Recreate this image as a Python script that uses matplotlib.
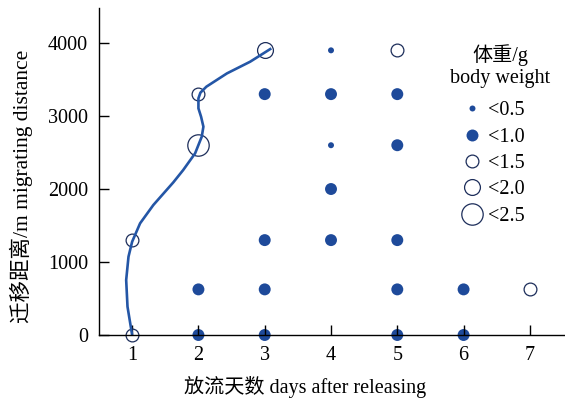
import numpy as np
import matplotlib
matplotlib.use("Agg")
from matplotlib import pyplot as plt
from matplotlib.lines import Line2D

plt.rcParams['font.family'] = ['Liberation Serif', 'Noto Sans CJK SC']
plt.rcParams['font.size'] = 14.5

# days after releasing, migrating distance (m), body weight class (g)
days = [1, 1, 2, 2, 2, 2, 3, 3, 3, 3, 3, 4, 4, 4, 4, 4, 5, 5, 5, 5, 5, 5, 6, 6, 7]
dist = [0, 1300, 0, 625, 2600, 3300, 0, 625, 1300, 3300, 3900, 1300, 2000, 2600, 3300, 3900,
        0, 625, 1300, 2600, 3300, 3900, 0, 625, 625]
weight = [1.5, 1.5, 1.0, 1.0, 2.5, 1.5, 1.0, 1.0, 1.0, 1.0, 2.0, 1.0, 1.0, 0.5, 1.0, 0.5,
          1.0, 1.0, 1.0, 1.0, 1.0, 1.5, 1.0, 1.0, 1.5]

# fitted curve
curve_x = [1.0, 0.93, 0.91, 0.945, 1.0, 1.12, 1.32, 1.62, 1.77, 1.95, 2.05, 2.075, 2.04,
           2.0, 2.0, 2.03, 2.12, 2.43, 2.78, 3.1]
curve_y = [0, 388, 753, 1073, 1278, 1530, 1781, 2090, 2260, 2489, 2717, 2854, 2990,
           3105, 3242, 3320, 3402, 3584, 3744, 3927]

classes = [0.5, 1.0, 1.5, 2.0, 2.5]
labels = ['<0.5', '<1.0', '<1.5', '<2.0', '<2.5']

blue = '#1e4a9a'
edge = '#1c2d5a'
line_c = '#2456a6'
diam = {0.5: 4.3, 1.0: 8.6, 1.5: 9.2, 2.0: 11.4, 2.5: 15.4}
filled = {0.5: True, 1.0: True, 1.5: False, 2.0: False, 2.5: False}

fig = plt.figure(figsize=(5.65, 4.05), dpi=100)
ax = fig.add_axes([99 / 565, 70 / 405, 466 / 565, 327 / 405])

ax.plot(curve_x, curve_y, color=line_c, lw=1.9, zorder=3, solid_joinstyle='round',
        solid_capstyle='butt', clip_on=False)

w = np.array(weight)
d = np.array(days)
y = np.array(dist)
for c in classes:
    m = w == c
    if filled[c]:
        ax.scatter(d[m], y[m], s=diam[c] ** 2, color=blue, edgecolors='none',
                   zorder=2, clip_on=False)
    else:
        ax.scatter(d[m], y[m], s=diam[c] ** 2, facecolors='white', edgecolors=edge,
                   linewidths=0.9, zorder=2, clip_on=False)

ax.set_xlim(0.5, 7.53)
ax.set_ylim(0, 4480)
ax.set_xticks(range(1, 8))
ax.set_yticks([0, 1000, 2000, 3000, 4000])
ax.tick_params(direction='in', length=7, width=1, pad=8)
ax.set_axisbelow(False)
for s in ['top', 'right']:
    ax.spines[s].set_visible(False)
for s in ['left', 'bottom']:
    ax.spines[s].set_linewidth(1)
    ax.spines[s].set_zorder(4)

ax.set_xlabel('放流天数 days after releasing')
ax.xaxis.set_label_coords(0.442, -0.125)
ax.set_ylabel('迁移距离/m migrating distance', fontsize=15.5)
ax.yaxis.set_label_coords(-0.142, 0.456)

handles = []
for c in classes:
    if filled[c]:
        h = Line2D([], [], ls='none', marker='o', markersize=diam[c],
                   markerfacecolor=blue, markeredgecolor='none')
    else:
        h = Line2D([], [], ls='none', marker='o', markersize=diam[c],
                   markerfacecolor='white', markeredgecolor=edge, markeredgewidth=0.9)
    handles.append(h)
leg = ax.legend(handles, labels, loc='upper left', bbox_to_anchor=(0.745, 0.758),
                frameon=False, fontsize=14.5, handletextpad=0.2, labelspacing=0.36,
                handlelength=1.2, borderpad=0.2)
ax.text(0.861, 0.822, '体重/g\nbody weight', transform=ax.transAxes, ha='center',
        va='center', multialignment='center', fontsize=14.5, linespacing=1.25)

fig.savefig('out.png', dpi=100)
